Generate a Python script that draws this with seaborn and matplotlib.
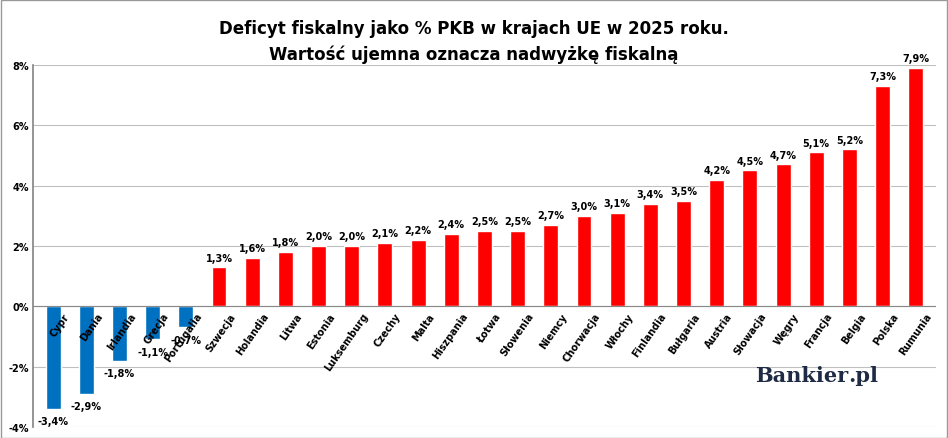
import matplotlib
matplotlib.use("Agg")
import matplotlib.pyplot as plt
import seaborn as sns
import pandas as pd

countries = ["Cypr","Dania","Irlandia","Grecja","Portugalia","Szwecja","Holandia","Litwa","Estonia","Luksemburg","Czechy","Malta","Hiszpania","Łotwa","Słowenia","Niemcy","Chorwacja","Włochy","Finlandia","Bułgaria","Austria","Słowacja","Węgry","Francja","Belgia","Polska","Rumunia"]
values = [-3.4,-2.9,-1.8,-1.1,-0.7,1.3,1.6,1.8,2.0,2.0,2.1,2.2,2.4,2.5,2.5,2.7,3.0,3.1,3.4,3.5,4.2,4.5,4.7,5.1,5.2,7.3,7.9]
yticks = [-4,-2,0,2,4,6,8]

sns.set_theme(style="white")
plt.rcParams["text.color"] = "black"
plt.rcParams["ytick.color"] = "black"
df = pd.DataFrame({"kraj": countries, "v": values})
colors = ["#0070C0" if v < 0 else "#FF0000" for v in values]

fig = plt.figure(figsize=(9.48, 4.39), dpi=100)
ax = fig.add_axes([0.035, 0.025, 0.952, 0.825])
sns.barplot(data=df, x="kraj", y="v", palette=colors, hue="kraj", legend=False, width=0.45, ax=ax, saturation=1)
ax.set_ylim(-4, 8)
ax.set_xlim(-0.6, len(values) - 0.4)
ax.set_yticks(yticks)
ax.set_yticklabels([f"{t}%" for t in yticks], fontsize=7, fontweight="bold")
ax.yaxis.grid(True, color="#BFBFBF", lw=0.8)
ax.set_axisbelow(True)
ax.set_xticks([])
ax.set_xlabel(""); ax.set_ylabel("")
for s in ["top", "right", "bottom"]:
    ax.spines[s].set_visible(False)
ax.spines["left"].set_color("#888888")
ax.axhline(0, color="#888888", lw=0.8)
ax.tick_params(axis="y", length=0, pad=3)

for i, (c, v) in enumerate(zip(countries, values)):
    lab = f"{v:.1f}%".replace(".", ",")
    if v >= 0:
        ax.text(i, v + 0.15, lab, ha="center", va="bottom", fontsize=7, fontweight="bold")
    else:
        ax.text(i, v - 0.25, lab, ha="center", va="top", fontsize=7, fontweight="bold")
    ax.text(i + 0.3, -0.15, c, ha="right", va="top", rotation=55, rotation_mode="anchor",
            fontsize=7, fontweight="bold")

fig.text(0.5, 0.955, "Deficyt fiskalny jako % PKB w krajach UE w 2025 roku.\nWartość ujemna oznacza nadwyżkę fiskalną",
         ha="center", va="top", fontsize=12, fontweight="bold", linespacing=1.5)
fig.text(0.895, 0.12, "Bankier", ha="right", va="bottom", fontsize=15, fontweight="bold",
         family="DejaVu Serif", color="#1F2A44")
fig.text(0.895, 0.12, ".pl", ha="left", va="bottom", fontsize=15, fontweight="bold",
         family="DejaVu Serif", color="#1F2A44")
fig.patches.append(plt.Rectangle((0.001, 0.001), 0.998, 0.997, transform=fig.transFigure,
                                 fill=False, ec="#999999", lw=1))
fig.savefig("out.png", dpi=100)
